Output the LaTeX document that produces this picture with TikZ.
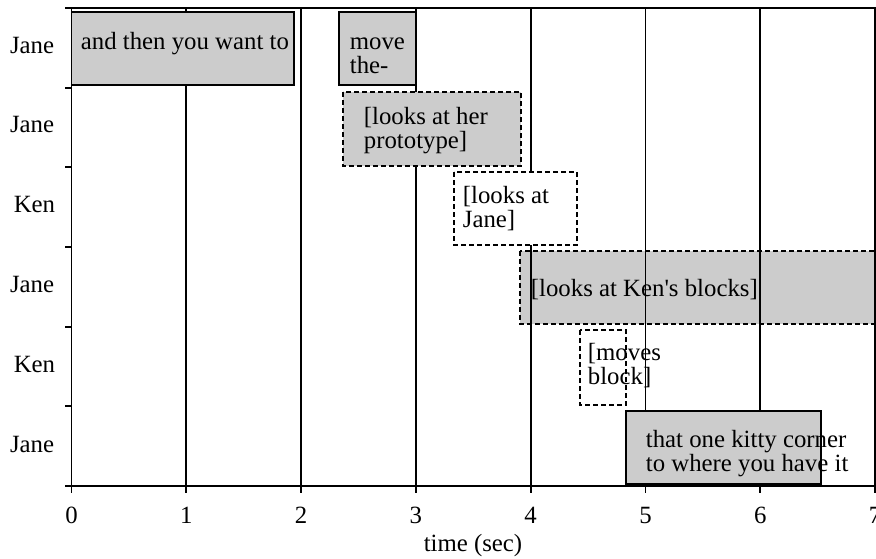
\documentclass[tikz,border=0pt]{standalone}
\usepackage{fontspec}
\setmainfont{Liberation Serif}
\definecolor{boxgray}{HTML}{CCCCCC}
\begin{document}
\begin{tikzpicture}[x=1pt,y=-1pt,line width=1.8pt,
  dashln/.style={dash pattern=on 5pt off 3pt},
  txt/.style={inner sep=0pt,font=\fontsize{24.8}{24}\selectfont},
  lbl/.style={txt,anchor=base west},
  rowlbl/.style={txt,anchor=base east},
  ticklbl/.style={txt,anchor=base}]
\useasboundingbox (0,0) rectangle (876,558);
\clip (0,0) rectangle (876,558);
% box behind the grid
\fill[boxgray] (520,251) rectangle (884,324);
\draw[dashln] (520,251) rectangle (884,324);
% grid and axes
\foreach \i in {0,...,7}{
  \draw ({71.5+114.79*\i},8) -- ({71.5+114.79*\i},493);
  \node[ticklbl] (n\i) at ({71.5+114.79*\i},523) {\i};
}
\draw (65,8) -- (878,8);
\draw (65,486) -- (878,486);
\foreach \k in {1,...,5}{
  \draw (65,{8+79.67*\k}) -- (71.5,{8+79.67*\k});
}
\node[ticklbl] (xlab) at (473,551) {time (sec)};
% row labels
\node[rowlbl] (r1) at (55,53) {Jane};
\node[rowlbl] (r2) at (55,132.5) {Jane};
\node[rowlbl] (r3) at (56,212) {Ken};
\node[rowlbl] (r4) at (55,292) {Jane};
\node[rowlbl] (r5) at (56,372) {Ken};
\node[rowlbl] (r6) at (55,452) {Jane};
% box 5 text
\node[lbl] (t5) at (530,296) {[looks at Ken\textquotesingle s blocks]};
% box 1
\fill[boxgray] (71.5,12) rectangle (294,85);
\node[lbl] (t1) at (80,49) {and then you want to};
\draw (71.5,12) rectangle (294,85);
% box 2
\fill[boxgray] (339,12) rectangle (416,85);
\node[lbl] (t2) at (349,49) {\vtop{\hbox{move}\hbox{the-}}};
\draw (339,12) rectangle (416,85);
% box 3
\fill[boxgray] (343,92) rectangle (521,166);
\node[lbl] (t3) at (363,124.5) {\vtop{\hbox{[looks at her}\hbox{prototype]}}};
\draw[dashln] (343,92) rectangle (521,166);
% box 4
\fill[white] (454,172) rectangle (577,245);
\node[lbl] (t4) at (462,203) {\vtop{\hbox{[looks at}\hbox{Jane]}}};
\draw[dashln] (454,172) rectangle (577,245);
% box 6
\fill[white] (580,330) rectangle (626,405);
\node[lbl] (t6) at (587,360) {\vtop{\hbox{[moves}\hbox{block]}}};
\draw[dashln] (580,330) rectangle (626,405);
% box 7
\fill[boxgray] (626,411) rectangle (821,484);
\node[lbl] (t7) at (645,447) {\vtop{\hbox{that one kitty corner}\hbox{to where you have it}}};
\draw (626,411) rectangle (821,484);
\end{tikzpicture}
\end{document}
